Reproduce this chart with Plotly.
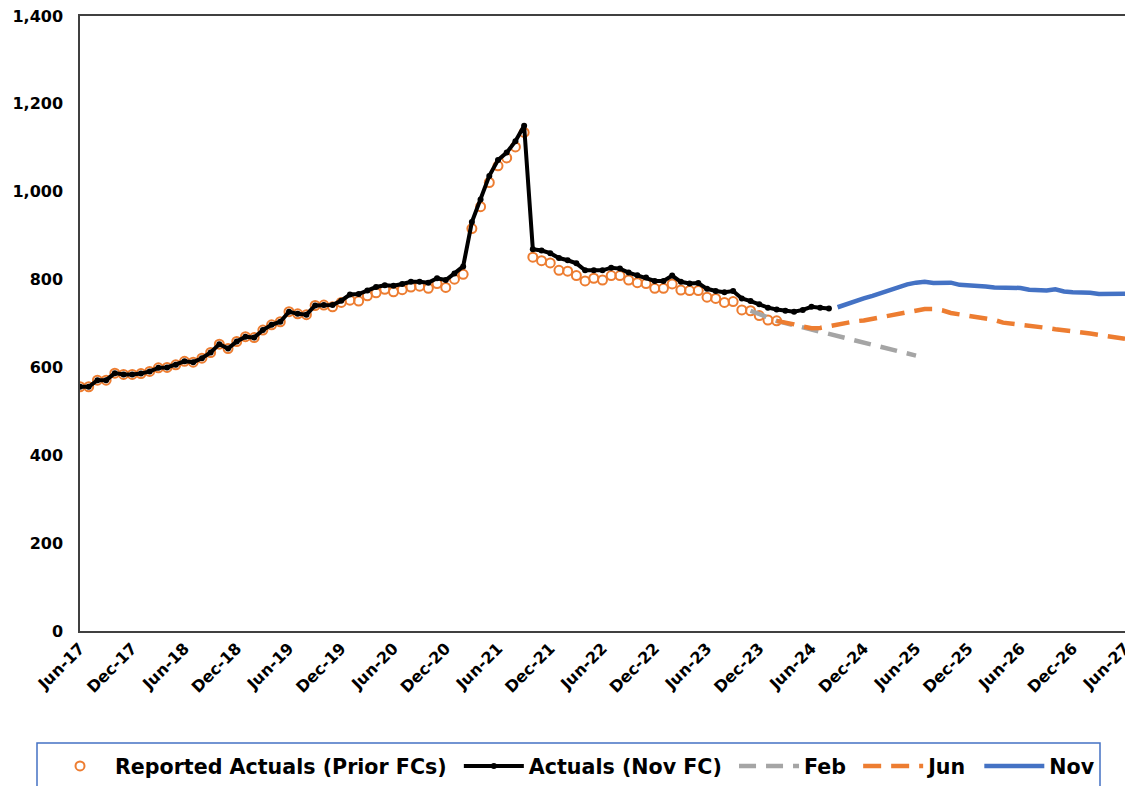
import pandas as pd
import plotly.graph_objects as go

# Monthly categories Jun-17 .. Jun-27
months = list(pd.date_range("2017-06-01", "2027-06-01", freq="MS").strftime("%b-%y"))
tick_labels = months[::6]

# Reported actuals (prior forecasts), from Jun-17
reported = [556, 556, 571, 571, 587, 584, 584, 586, 591, 599, 600, 606,
            614, 612, 621, 634, 653, 643, 659, 670, 668, 685, 697, 704,
            727, 722, 720, 741, 742, 738, 748, 753, 751, 763, 770, 778,
            772, 777, 783, 785, 780, 791, 782, 801, 812, 916, 966, 1021,
            1059, 1077, 1102, 1135, 851, 843, 838, 821, 819, 809, 797, 803,
            799, 809, 809, 799, 793, 791, 780, 780, 790, 776, 775, 775,
            760, 757, 748, 750, 731, 729, 718, 708, 706]

# Actuals (Nov FC), from Jun-17
actuals = [556, 556, 571, 571, 587, 584, 584, 586, 591, 599, 600, 606,
           614, 612, 621, 634, 653, 643, 659, 670, 668, 685, 697, 704,
           727, 722, 720, 741, 742, 742, 752, 766, 767, 775, 783, 787,
           786, 790, 795, 795, 793, 803, 799, 814, 830, 931, 982, 1036,
           1072, 1089, 1115, 1150, 869, 866, 860, 849, 844, 837, 821, 821,
           821, 827, 825, 816, 810, 805, 797, 797, 809, 795, 791, 792,
           779, 774, 771, 774, 757, 751, 744, 736, 732, 729, 727, 731,
           738, 736, 734]

# Feb forecast, from Nov-23
feb_start = 77
feb_fc = [729, 721, 713, 706, 701, 696, 691, 686, 681, 676, 671, 666,
          661, 656, 650, 645, 641, 637, 632, 627]

# Jun forecast, from Feb-24
jun_start = 80
jun_fc = [706, 703, 698, 693, 689, 690, 694, 699, 702, 705, 707, 711,
          715, 719, 723, 727, 730, 733, 733, 730, 724, 721, 718, 715,
          711, 708, 702, 700, 697, 695, 692, 690, 687, 685, 682, 680,
          677, 674, 671, 668, 665]

# Nov forecast, from Sep-24
nov_start = 87
nov_fc = [737, 744, 752, 757, 763, 770, 777, 783, 789, 793, 795, 792,
          792, 793, 788, 787, 787, 784, 782, 782, 782, 781, 777, 776,
          775, 778, 773, 771, 771, 770, 767, 768, 768, 768]

ORANGE = "#ED7D31"
GRAY = "#A5A5A5"
BLUE = "#4472C4"
NB = "\u00a0"

fig = go.Figure()
fig.add_trace(go.Scatter(
    x=months[:len(reported)], y=reported, mode="markers",
    name="Reported Actuals (Prior FCs)" + NB,
    marker=dict(symbol="circle-open", size=9, color=ORANGE, line=dict(width=2, color=ORANGE)),
))
fig.add_trace(go.Scatter(
    x=months[:len(actuals)], y=actuals, mode="lines+markers",
    name="Actuals (Nov FC)" + NB,
    line=dict(color="black", width=4),
    marker=dict(symbol="circle", size=6, color="black"),
))
fig.add_trace(go.Scatter(
    x=months[feb_start:feb_start + len(feb_fc)], y=feb_fc, mode="lines",
    name="Feb" + NB, line=dict(color=GRAY, width=4.5, dash="17px,10px"),
))
fig.add_trace(go.Scatter(
    x=months[jun_start:jun_start + len(jun_fc)], y=jun_fc, mode="lines",
    name="Jun" + NB, line=dict(color=ORANGE, width=4.5, dash="18px,10px"),
))
fig.add_trace(go.Scatter(
    x=months[nov_start:nov_start + len(nov_fc)], y=nov_fc, mode="lines",
    name="Nov", line=dict(color=BLUE, width=4.5),
))

# page is offset by 8px; plot area in page px: x 80..1125, y 16..631
OFF = 8
TOP = 16
def px_x(p):
    return (p - 80) / 1045.0

def px_y(p):
    return (631 - p) / float(631 - TOP)

fig.add_shape(type="rect", xref="paper", yref="paper",
              x0=px_x(37), x1=px_x(1100), y0=px_y(743), y1=px_y(800),
              line=dict(color=BLUE, width=1.5), fillcolor="rgba(0,0,0,0)")

tick_font = dict(family="DejaVu Sans", size=16, color="black", weight="bold")

fig.update_layout(
    width=1133 - OFF, height=786 - OFF,
    margin=dict(l=80 - OFF, r=8, t=TOP - OFF, b=155, autoexpand=False),
    paper_bgcolor="white", plot_bgcolor="white",
    showlegend=True,
    legend=dict(orientation="h", x=px_x(45), xanchor="left", y=px_y(746), yanchor="top",
                font=dict(family="DejaVu Sans", size=20.6, color="black", weight="bold"),
                bgcolor="rgba(0,0,0,0)", borderwidth=0, itemwidth=60,
                traceorder="normal"),
    xaxis=dict(type="category", categoryorder="array", categoryarray=months,
               range=[0, len(months) - 1],
               tickmode="array", tickvals=tick_labels, ticktext=tick_labels,
               tickangle=-45, tickfont=tick_font, showgrid=False, zeroline=False,
               showline=True, linecolor="#404040", linewidth=1.5, mirror=True,
               ticks=""),
    yaxis=dict(range=[0, 1400], dtick=200, tickformat=",", tickfont=tick_font,
               showgrid=False, zeroline=False, showline=True, linecolor="#404040",
               linewidth=1.5, mirror=True, ticks="", ticklabelstandoff=12,
               ticklabeloverflow="allow"),
)

fig.write_html("out.html")
